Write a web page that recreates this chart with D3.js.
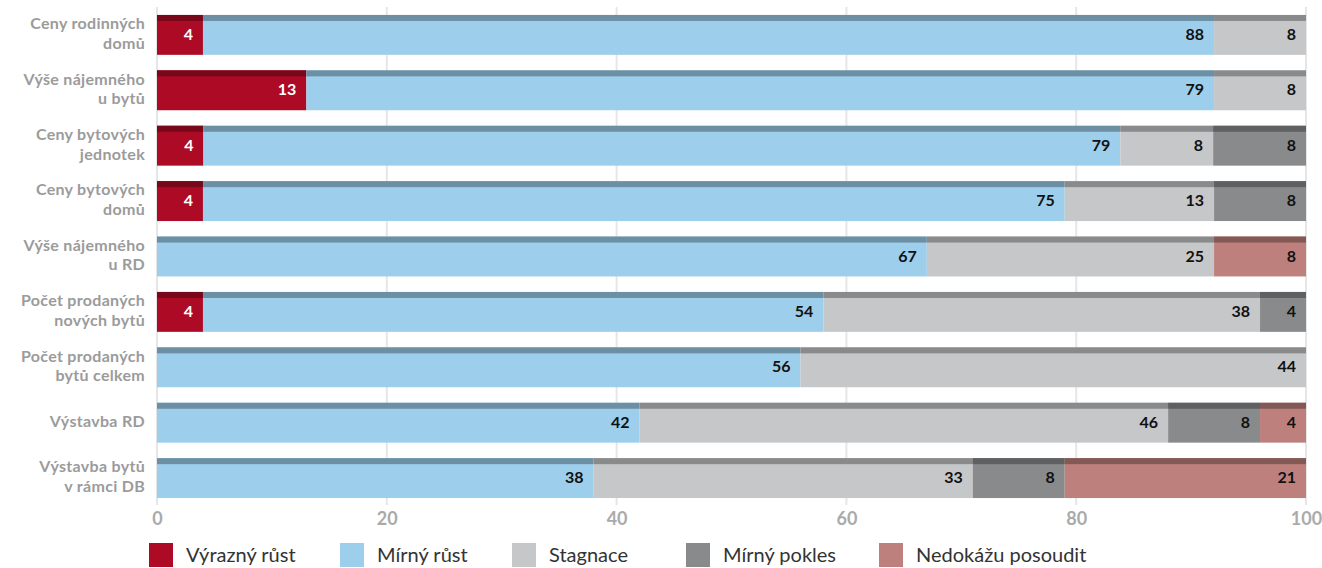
<!DOCTYPE html>
<html>
<head>
<meta charset="utf-8">
<script src="https://cdn.jsdelivr.net/npm/d3@7"></script>
<style>
  body { margin: 0; background: #fff; }
  svg { display: block; font-family: Lato, "Open Sans", sans-serif; }
</style>
</head>
<body>
<div id="vis"></div>
<script>
const width = 1322;
const height = 568;

// data
const categories = [
  'Ceny rodinných\ndomů',
  'Výše nájemného\nu bytů',
  'Ceny bytových\njednotek',
  'Ceny bytových\ndomů',
  'Výše nájemného\nu RD',
  'Počet prodaných\nnových bytů',
  'Počet prodaných\nbytů celkem',
  'Výstavba RD',
  'Výstavba bytů\nv rámci DB',
];
const seriesNames = ['Výrazný růst', 'Mírný růst', 'Stagnace', 'Mírný pokles', 'Nedokážu posoudit'];
const vyraznyRust = [4, 13, 4, 4, 0, 4, 0, 0, 0];
const mirnyRust = [88, 79, 79, 75, 67, 54, 56, 42, 38];
const stagnace = [8, 8, 8, 13, 25, 38, 44, 46, 33];
const mirnyPokles = [0, 0, 8, 8, 0, 4, 0, 8, 8];
const nedokazu = [0, 0, 0, 0, 8, 0, 0, 4, 21];
const seriesColors = ['#ad0a26', '#9dceeb', '#c6c7c9', '#898a8c', '#bd807c'];
const xTicks = [0, 20, 40, 60, 80, 100];

const table = categories.map((c, i) => ({
  cat: c,
  'Výrazný růst': vyraznyRust[i],
  'Mírný růst': mirnyRust[i],
  'Stagnace': stagnace[i],
  'Mírný pokles': mirnyPokles[i],
  'Nedokážu posoudit': nedokazu[i],
}));

const svg = d3.select('#vis').append('svg').attr('width', width).attr('height', height);

const x = d3.scaleLinear().domain([0, 100]).range([157, 1306]);
const y = d3.scaleBand().domain(categories).range([7.2, 505.8]).paddingInner(0.28).paddingOuter(0.14);
const color = d3.scaleOrdinal().domain(seriesNames).range(seriesColors);

// grid
svg.append('g')
  .selectAll('line')
  .data(xTicks)
  .join('line')
  .attr('x1', (d) => x(d))
  .attr('x2', (d) => x(d))
  .attr('y1', 7)
  .attr('y2', 505)
  .attr('stroke', '#e6e6e6')
  .attr('stroke-width', 2);

// x tick labels
const xAxis = d3.axisBottom(x).tickValues(xTicks).tickSize(0).tickPadding(0);
const xg = svg.append('g').attr('transform', 'translate(0,512)').call(xAxis);
xg.select('.domain').remove();
xg.selectAll('text')
  .attr('font-family', 'Lato, sans-serif')
  .attr('font-size', 18)
  .attr('font-weight', 700)
  .attr('fill', '#aaaaaa');

// stacked bars
const stacked = d3.stack().keys(seriesNames).offset(d3.stackOffsetExpand)(table);
const stripH = 6;

const layers = svg.append('g')
  .selectAll('g')
  .data(stacked)
  .join('g');

const segs = layers.selectAll('g')
  .data((s) => s.map((d) => ({ key: s.key, d0: d[0] * 100, d1: d[1] * 100, v: d.data[s.key], cat: d.data.cat })).filter((d) => d.v > 0))
  .join('g');

segs.append('rect')
  .attr('x', (d) => x(d.d0))
  .attr('y', (d) => y(d.cat))
  .attr('width', (d) => x(d.d1) - x(d.d0))
  .attr('height', y.bandwidth())
  .attr('fill', (d) => color(d.key));

segs.append('rect')
  .attr('x', (d) => x(d.d0))
  .attr('y', (d) => y(d.cat))
  .attr('width', (d) => x(d.d1) - x(d.d0))
  .attr('height', stripH)
  .attr('fill', (d) => d3.color(color(d.key)).darker(1.03));

segs.append('text')
  .attr('x', (d) => x(d.d1) - 10)
  .attr('y', (d) => y(d.cat) + y.bandwidth() / 2 + 1)
  .attr('text-anchor', 'end')
  .attr('dominant-baseline', 'middle')
  .attr('font-size', 16)
  .attr('font-weight', 700)
  .attr('fill', (d) => (d.key === 'Výrazný růst' ? '#ffffff' : '#111111'))
  .text((d) => d.v);

// category labels, one text per line
const lineGap = 19.5;
const catG = svg.append('g');
categories.forEach((c) => {
  const lines = c.split('\n');
  const mid = y(c) + y.bandwidth() / 2;
  lines.forEach((l, i) => {
    catG.append('text')
      .attr('x', 145)
      .attr('y', mid + (i - (lines.length - 1) / 2) * lineGap)
      .attr('dominant-baseline', 'middle')
      .attr('text-anchor', 'end')
      .attr('font-size', 16)
      .attr('font-weight', 700)
      .attr('letter-spacing', 0.3)
      .attr('fill', '#9b9b9b')
      .text(l);
  });
});

// legend
const legendX = [149, 340, 512, 686, 879];
const legend = svg.append('g').attr('transform', 'translate(0,543)');
seriesNames.forEach((name, i) => {
  const item = legend.append('g').attr('transform', `translate(${legendX[i]},0)`);
  item.append('rect').attr('width', 24).attr('height', 24).attr('fill', color(name));
  item.append('text')
    .attr('x', 37)
    .attr('y', 19)
    .attr('font-size', 20)
    .attr('font-weight', 400)
    .attr('fill', '#333333')
    .text(name);
});
</script>
</body>
</html>
